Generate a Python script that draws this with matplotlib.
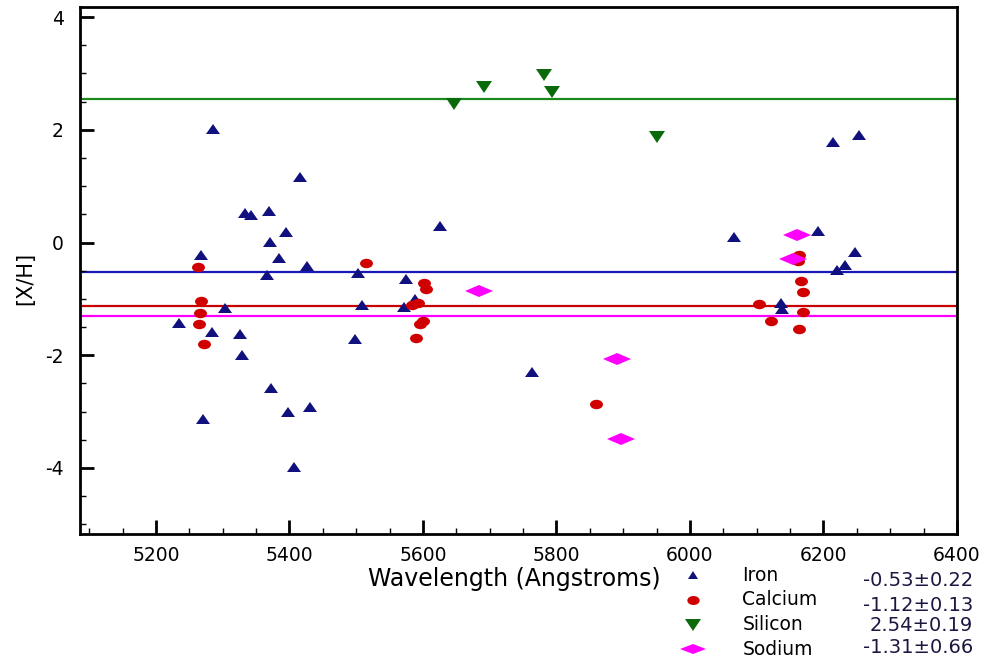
import matplotlib
matplotlib.use('Agg')
import matplotlib.pyplot as plt
from matplotlib.markers import MarkerStyle
from matplotlib.transforms import Affine2D
from matplotlib.lines import Line2D
from matplotlib.ticker import MultipleLocator

plt.rcParams['font.family'] = ['DejaVu Sans']
plt.rcParams['axes.unicode_minus'] = False

# Abundances [X/H] per line
iron_wl = [5234, 5268, 5271, 5284, 5285, 5304, 5326, 5329, 5333, 5342, 5367, 5369, 5371,
           5373, 5385, 5395, 5398, 5407, 5416, 5426, 5431, 5498, 5503, 5508, 5571, 5574,
           5588, 5626, 5764, 6066, 6137, 6138, 6192, 6214, 6220, 6232, 6247, 6253]
iron_xh = [-1.43, -0.22, -3.13, -1.59, 2.01, -1.17, -1.62, -1.99, 0.52, 0.49, -0.57, 0.56, 0.01,
           -2.59, -0.28, 0.19, -3.01, -3.99, 1.17, -0.41, -2.91, -1.71, -0.54, -1.11, -1.14, -0.64,
           -1.00, 0.30, -2.29, 0.09, -1.08, -1.18, 0.21, 1.79, -0.48, -0.40, -0.17, 1.91]

calcium_wl = [5263, 5264, 5266, 5267, 5272, 5514, 5583, 5590, 5592, 5595, 5600, 5602, 5604,
              5859, 6103, 6122, 6162, 6163, 6164, 6166, 6170, 6170]
calcium_xh = [-0.43, -1.44, -1.25, -1.03, -1.80, -0.36, -1.11, -1.69, -1.07, -1.44, -1.40, -0.72, -0.83,
              -2.86, -1.09, -1.39, -0.33, -1.53, -0.23, -0.69, -0.88, -1.24]

silicon_wl = [5647, 5692, 5782, 5794, 5950]
silicon_xh = [2.46, 2.76, 2.98, 2.67, 1.87]

sodium_wl = [5684, 5891, 5897, 6155, 6161]
sodium_xh = [-0.86, -2.07, -3.49, -0.29, 0.13]

elements = ['Iron', 'Calcium', 'Silicon', 'Sodium']
means = [-0.53, -1.12, 2.54, -1.31]
errors = [0.22, 0.13, 0.19, 0.66]

# marker styles (the reference is horizontally stretched, so markers are wide)
mk_iron = MarkerStyle('^', transform=Affine2D().scale(1.25, 1.0))
mk_ca = MarkerStyle('o', transform=Affine2D().scale(1.37, 1.0))
mk_si = MarkerStyle('v', transform=Affine2D().scale(1.36, 1.0))
mk_na = MarkerStyle('D', transform=Affine2D().scale(1.6, 0.7))

point_col = ['#10107e', '#d00000', '#0b6b0b', '#ff00ff']
line_col = ['#1818b8', '#c80000', '#1a8a1a', '#ff00ff']

fig = plt.figure(figsize=(9.86, 6.64), dpi=100)
ax = fig.add_axes([0.0816, 0.196, 0.8890, 0.7935])

for m, c in zip(means, line_col):
    ax.axhline(m, color=c, lw=1.6, zorder=1)

ax.plot(iron_wl, iron_xh, ls='', marker=mk_iron, ms=7.5, mew=0, color=point_col[0], zorder=3)
ax.plot(calcium_wl, calcium_xh, ls='', marker=mk_ca, ms=6.8, mew=0, color=point_col[1], zorder=3)
ax.plot(silicon_wl, silicon_xh, ls='', marker=mk_si, ms=8.0, mew=0, color=point_col[2], zorder=3)
ax.plot(sodium_wl, sodium_xh, ls='', marker=mk_na, ms=9, mew=0, color=point_col[3], zorder=4)

ax.set_xlim(5087, 6400)
ax.set_ylim(-5.17, 4.18)
ax.xaxis.set_major_locator(MultipleLocator(200))
ax.xaxis.set_minor_locator(MultipleLocator(50))
ax.yaxis.set_major_locator(MultipleLocator(2))
ax.yaxis.set_minor_locator(MultipleLocator(0.5))

for s in ax.spines.values():
    s.set_linewidth(2.0)
ax.tick_params(which='both', direction='in', top=False, right=False, labelsize=13.5)
ax.tick_params(which='major', length=10, width=2)
ax.tick_params(which='minor', length=4.5, width=1)
ax.tick_params(axis='y', pad=12)
ax.tick_params(axis='x', pad=9)

ax.set_ylabel('[X/H]', fontsize=15)
ax.yaxis.set_label_coords(-0.052, 0.485)
fig.text(0.5215, 0.128, 'Wavelength (Angstroms)', fontsize=17, ha='center', va='center')

# legend block with the mean values, below the axes on the right
leg_markers = [(mk_iron, 5.5), (mk_ca, 6.5), (mk_si, 8.0), (mk_na, 8)]
for i, name in enumerate(elements):
    y = 0.134 - i * 0.0373
    mk, ms = leg_markers[i]
    fig.add_artist(Line2D([0.703], [y], transform=fig.transFigure, ls='',
                          marker=mk, ms=ms, mew=0, color=point_col[i]))
    fig.text(0.753, y, name, fontsize=13.5, ha='left', va='center')
    fig.text(0.987, y - (0.008 if i < 2 else 0.002 if i == 2 else -0.002),
             f'{means[i]:.2f}\u00b1{errors[i]:.2f}', fontsize=14, ha='right', va='center',
             color='#1c1640')

fig.savefig('out.png', dpi=100)
